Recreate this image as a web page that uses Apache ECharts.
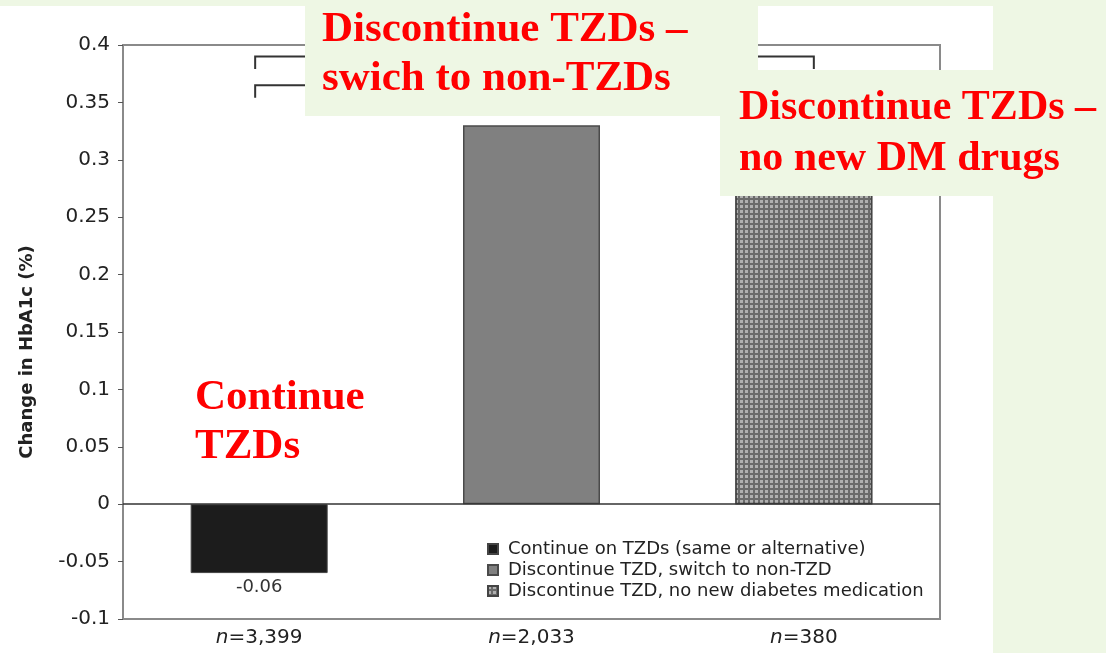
<!DOCTYPE html>
<html>
<head>
<meta charset="utf-8">
<script src="https://cdn.jsdelivr.net/npm/echarts@6/dist/echarts.min.js"></script>
<style>
  html, body { margin: 0; padding: 0; background: #eef7e4; }
  #chart { width: 1106px; height: 653px; }
</style>
</head>
<body>
<div id="chart"></div>
<script>
const categories = ["3,399", "2,033", "380"];
const seriesNames = [
  "Continue on TZDs (same or alternative)",
  "Discontinue TZD, switch to non-TZD",
  "Discontinue TZD, no new diabetes medication",
];
const continueVals = [-0.06, "-", "-"];
const switchVals = ["-", 0.33, "-"];
const noNewVals = ["-", "-", 0.34];
// [from category, to category, level]
const brackets = [
  [0, 2, 0.39],
  [0, 1, 0.365],
];

const green = "#eef7e4";
const red = "#ff0000";
const serif = "'Liberation Serif', 'Times New Roman', serif";
const sans = "'DejaVu Sans', Verdana, sans-serif";

const chart = echarts.init(document.getElementById("chart"));

function barSeries(name, data, itemStyle) {
  return {
    name,
    type: "bar",
    stack: "all",
    barWidth: 137,
    data,
    itemStyle,
    label: {
      show: true,
      position: "outside",
      color: "#333",
      fontSize: 18,
      fontFamily: sans,
      distance: 5,
      formatter: (p) => p.value.toFixed(2),
    },
  };
}

chart.setOption({
  backgroundColor: green,
  animation: false,
  textStyle: { fontFamily: sans },
  grid: {
    left: 123,
    right: 166,
    top: 45,
    bottom: 34,
    show: true,
    borderColor: "#8a8a8a",
    borderWidth: 2,
  },
  legend: {
    data: seriesNames,
    orient: "vertical",
    left: 482,
    top: 535,
    icon: "rect",
    itemWidth: 10,
    itemHeight: 10,
    itemGap: 3,
    textStyle: { fontSize: 18, color: "#222", lineHeight: 18, padding: [0, 0, 0, 5] },
  },
  xAxis: {
    type: "category",
    data: categories,
    axisLine: { onZero: false, lineStyle: { color: "#8a8a8a", width: 2 } },
    axisTick: { show: false },
    axisLabel: {
      margin: 9,
      fontSize: 20,
      color: "#222",
      formatter: (v) => "{i|n}=" + v,
      rich: { i: { fontStyle: "italic", fontSize: 20, color: "#222" } },
    },
  },
  yAxis: {
    type: "value",
    min: -0.1,
    max: 0.4,
    interval: 0.05,
    name: "Change in HbA1c (%)",
    nameLocation: "middle",
    nameRotate: 90,
    nameGap: 87,
    nameTextStyle: { fontSize: 18, fontWeight: "bold", color: "#222", padding: [0, 40, 0, 0] },
    axisLine: { show: true, lineStyle: { color: "#8a8a8a", width: 2 } },
    axisTick: { show: true, length: 5, lineStyle: { color: "#555" } },
    axisLabel: { fontSize: 20, color: "#222", margin: 13 },
    splitLine: { show: false },
  },
  series: [
    Object.assign(
      barSeries(seriesNames[0], continueVals, {
        color: "#1c1c1c",
        borderColor: "#444",
        borderWidth: 1,
      }),
      {
        markLine: {
          silent: true,
          symbol: "none",
          label: { show: false },
          lineStyle: { color: "#333", width: 1.5, type: "solid" },
          data: [{ yAxis: 0 }],
        },
      }
    ),
    barSeries(seriesNames[1], switchVals, {
      color: "#808080",
      borderColor: "#4a4a4a",
      borderWidth: 1.5,
    }),
    barSeries(seriesNames[2], noNewVals, {
      color: "#6a6a6a",
      borderColor: "#444",
      borderWidth: 1.5,
      decal: {
        symbol: "rect",
        symbolSize: 1,
        color: "rgba(180,180,180,0.95)",
        dashArrayX: [[3, 2]],
        dashArrayY: [3, 2],
        rotation: 0,
      },
    }),
    {
      type: "custom",
      name: "brackets",
      data: brackets,
      z: 5,
      renderItem: (params, api) => {
        const level = api.value(2);
        const a = api.coord([api.value(0), level]);
        const b = api.coord([api.value(1), level]);
        const drop = api.coord([api.value(0), level - 0.011])[1];
        return {
          type: "polyline",
          shape: {
            points: [
              [a[0] - 4, drop],
              [a[0] - 4, a[1]],
              [b[0] + 10, b[1]],
              [b[0] + 10, drop],
            ],
          },
          style: { stroke: "#333", lineWidth: 2, fill: null },
        };
      },
    },
  ],
  graphic: [
    { type: "rect", z: -10, shape: { x: 0, y: 6, width: 993, height: 647 }, style: { fill: "#ffffff" } },
    { type: "rect", z: 100, shape: { x: 305, y: 0, width: 453, height: 116 }, style: { fill: green } },
    { type: "rect", z: 100, shape: { x: 720, y: 70, width: 386, height: 126 }, style: { fill: green } },
    { type: "text", z: 101, x: 322, y: 30, style: { text: "Discontinue TZDs \u2013", font: "bold 43px " + serif, fill: red, verticalAlign: "middle" } },
    { type: "text", z: 101, x: 322, y: 79, style: { text: "swich to non-TZDs", font: "bold 43px " + serif, fill: red, verticalAlign: "middle" } },
    { type: "text", z: 101, x: 739, y: 108, style: { text: "Discontinue TZDs \u2013", font: "bold 42px " + serif, fill: red, verticalAlign: "middle" } },
    { type: "text", z: 101, x: 739, y: 159, style: { text: "no new DM drugs", font: "bold 42px " + serif, fill: red, verticalAlign: "middle" } },
    { type: "text", z: 101, x: 195, y: 398, style: { text: "Continue", font: "bold 43px " + serif, fill: red, verticalAlign: "middle" } },
    { type: "text", z: 101, x: 195, y: 447, style: { text: "TZDs", font: "bold 43px " + serif, fill: red, verticalAlign: "middle" } },
  ],
});
</script>
</body>
</html>
